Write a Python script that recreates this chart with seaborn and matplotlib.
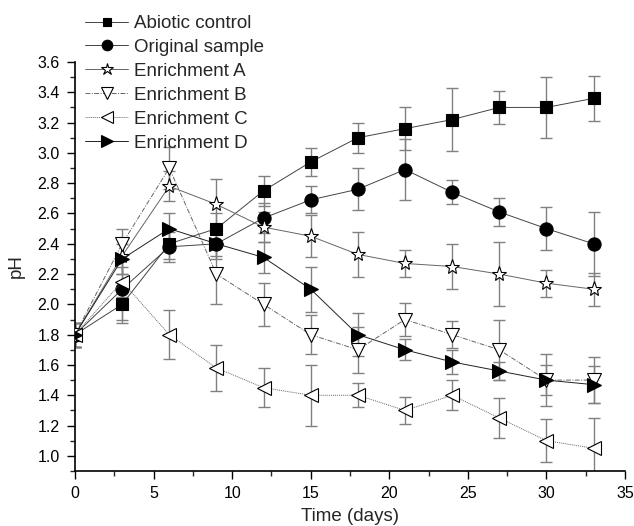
import numpy as np
import pandas as pd
import matplotlib
matplotlib.use("Agg")
import matplotlib.pyplot as plt
from matplotlib.ticker import MultipleLocator
import seaborn as sns

days = [0, 3, 6, 9, 12, 15, 18, 21, 24, 27, 30, 33]

abiotic = [1.80, 2.00, 2.40, 2.50, 2.75, 2.94, 3.10, 3.16, 3.22, 3.30, 3.30, 3.36]
abiotic_err = [0.08, 0.12, 0.10, 0.10, 0.10, 0.09, 0.10, 0.14, 0.21, 0.11, 0.20, 0.15]

original = [1.80, 2.10, 2.38, 2.40, 2.57, 2.69, 2.76, 2.89, 2.74, 2.61, 2.50, 2.40]
original_err = [0.08, 0.20, 0.10, 0.10, 0.10, 0.09, 0.14, 0.20, 0.08, 0.09, 0.14, 0.21]

enr_a = [1.80, 2.32, 2.78, 2.66, 2.51, 2.45, 2.33, 2.27, 2.25, 2.20, 2.14, 2.10]
enr_a_err = [0.08, 0.12, 0.10, 0.17, 0.10, 0.14, 0.15, 0.09, 0.15, 0.21, 0.09, 0.11]

enr_b = [1.80, 2.40, 2.90, 2.20, 2.00, 1.80, 1.70, 1.90, 1.80, 1.70, 1.50, 1.50]
enr_b_err = [0.08, 0.10, 0.14, 0.20, 0.14, 0.13, 0.15, 0.11, 0.09, 0.20, 0.10, 0.15]

enr_c = [1.80, 2.15, 1.80, 1.58, 1.45, 1.40, 1.40, 1.30, 1.40, 1.25, 1.10, 1.05]
enr_c_err = [0.08, 0.10, 0.16, 0.15, 0.13, 0.20, 0.08, 0.09, 0.10, 0.13, 0.14, 0.20]

enr_d = [1.80, 2.30, 2.50, 2.40, 2.31, 2.10, 1.80, 1.70, 1.62, 1.56, 1.50, 1.47]
enr_d_err = [0.08, 0.10, 0.10, 0.08, 0.10, 0.15, 0.14, 0.07, 0.08, 0.06, 0.17, 0.12]

names = ["Abiotic control", "Original sample", "Enrichment A",
         "Enrichment B", "Enrichment C", "Enrichment D"]
values = [abiotic, original, enr_a, enr_b, enr_c, enr_d]
errors = [abiotic_err, original_err, enr_a_err, enr_b_err, enr_c_err, enr_d_err]

rows = []
for n, v, e in zip(names, values, errors):
    for d, y, s in zip(days, v, e):
        rows.append({"series": n, "day": d, "pH": y, "err": s})
df = pd.DataFrame(rows)

# marker / line style per series
styles = {
    "Abiotic control": dict(marker="s", ms=8, mfc="black", ls="-", color="#444444"),
    "Original sample": dict(marker="o", ms=9.5, mfc="black", ls="-", color="#444444"),
    "Enrichment A": dict(marker="*", ms=11, mfc="white", ls="-", color="#666666"),
    "Enrichment B": dict(marker="v", ms=10, mfc="white", ls=(0, (5, 1.5, 1, 1.5)), color="#666666"),
    "Enrichment C": dict(marker="<", ms=10, mfc="white", ls=(0, (1, 1)), color="#666666"),
    "Enrichment D": dict(marker=">", ms=10, mfc="black", ls="-", color="#222222"),
}

sns.set_style("ticks")
plt.rcParams["font.family"] = ["Liberation Sans", "DejaVu Sans"]

fig = plt.figure(figsize=(6.34, 5.26), dpi=100)
ax = fig.add_axes([75 / 634, 1 - 471 / 526, 550 / 634, 409 / 526])

for n in names:
    sub = df[df.series == n]
    st = styles[n]
    ax.errorbar(sub.day, sub.pH, yerr=sub.err, fmt="none", ecolor="#808080",
                elinewidth=1.0, capsize=4, capthick=1.0, zorder=1)
    sns.lineplot(data=sub, x="day", y="pH", ax=ax, label=n, errorbar=None,
                 color=st["color"], linestyle=st["ls"], linewidth=0.7,
                 marker=st["marker"], markersize=st["ms"],
                 markerfacecolor=st["mfc"], markeredgecolor="black",
                 markeredgewidth=0.8, zorder=3)

ax.set_xlim(0, 35)
ax.set_ylim(0.9, 3.6)
ax.xaxis.set_major_locator(MultipleLocator(5))
ax.xaxis.set_minor_locator(MultipleLocator(2.5))
ax.yaxis.set_minor_locator(MultipleLocator(0.1))
ax.set_yticks(np.arange(1.0, 3.61, 0.2))
ax.set_yticklabels([f"{t:.1f}" for t in np.arange(1.0, 3.61, 0.2)])
ax.tick_params(which="major", direction="out", length=6, width=1,
               labelsize=11.5, colors="black", pad=5)
ax.tick_params(which="minor", direction="out", length=3.5, width=1)
for sp in ["top", "right"]:
    ax.spines[sp].set_visible(False)
for sp in ["left", "bottom"]:
    ax.spines[sp].set_color("black")
    ax.spines[sp].set_linewidth(1.2)

ax.set_xlabel("Time (days)", fontsize=13.5, labelpad=5)
ax.set_ylabel("pH", fontsize=13.5, labelpad=9)

ax.legend(loc="upper left", bbox_to_anchor=(85 / 634, 1 - 15 / 526),
          bbox_transform=fig.transFigure, frameon=False, fontsize=13.5,
          handlelength=2.3, handletextpad=0.3, labelspacing=0.36,
          borderpad=0, borderaxespad=0, markerscale=0.8)

fig.savefig("out.png", dpi=100)
